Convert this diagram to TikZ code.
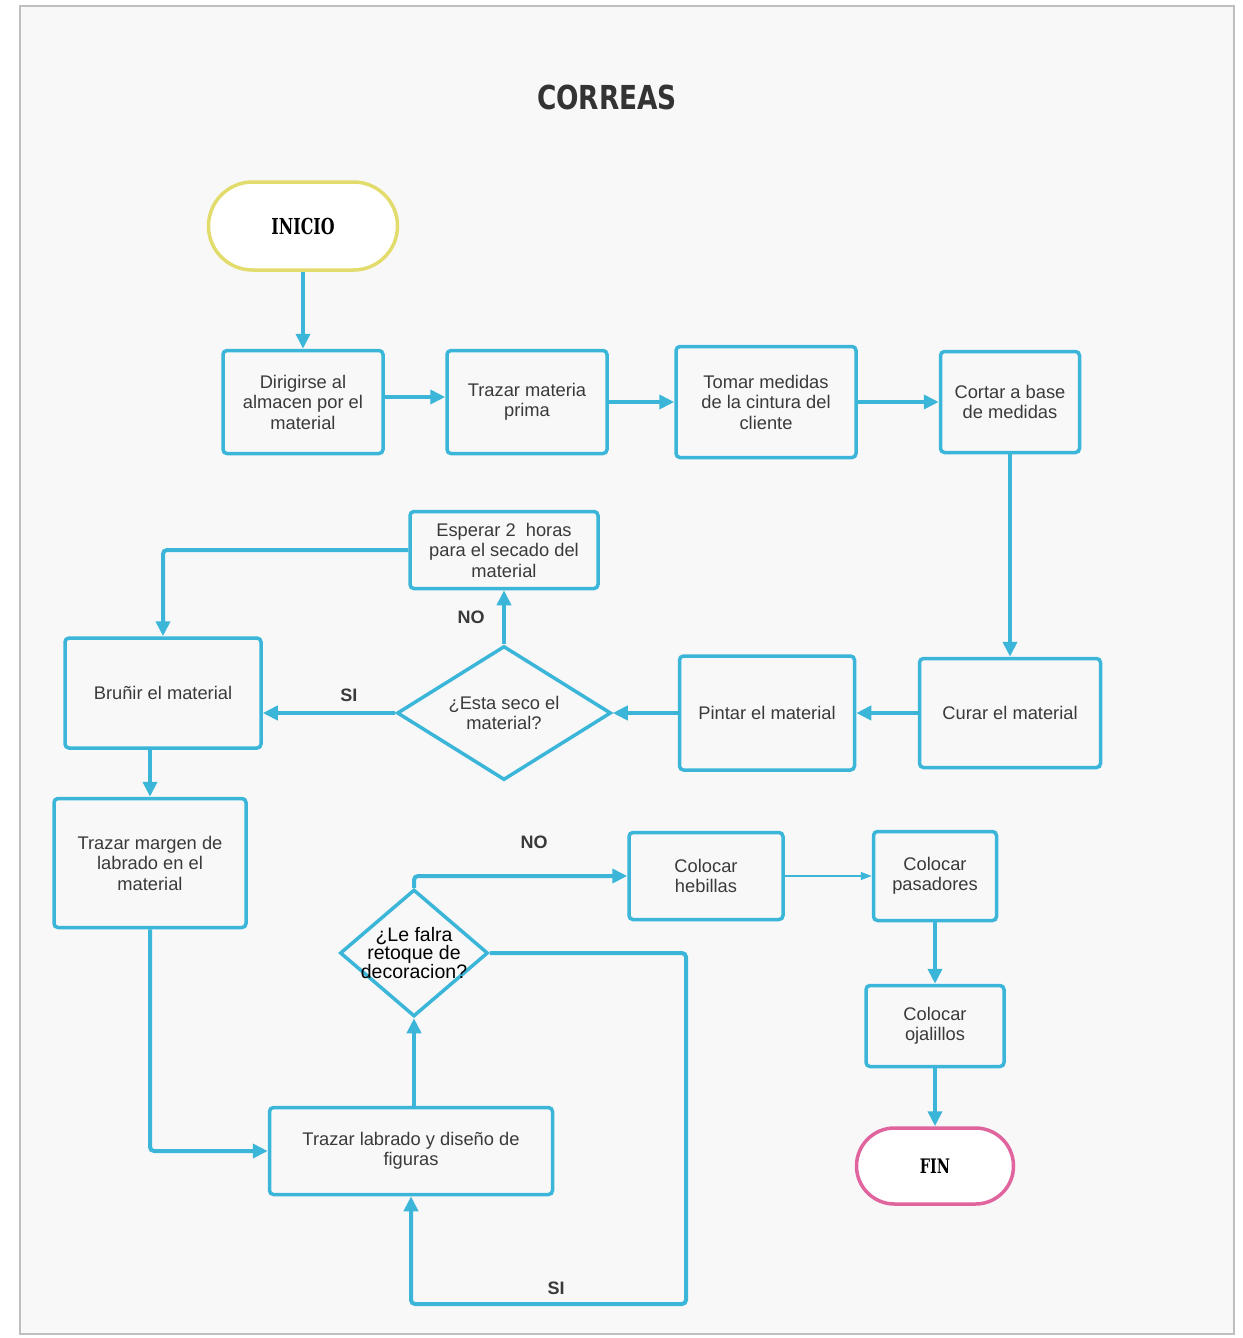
\documentclass[tikz,border=0pt]{standalone}
\usepackage{fontspec}
\setmainfont{Liberation Sans}
\newfontfamily\titulofont{DejaVu Sans}
\newfontfamily\losafont{DejaVu Serif}
\usetikzlibrary{shapes.geometric,arrows.meta,positioning}

\definecolor{azul}{HTML}{3BB6D9}
\definecolor{amarillo}{HTML}{E2DC6C}
\definecolor{rosa}{HTML}{E0649D}
\definecolor{fondo}{HTML}{F8F8F8}
\definecolor{texto}{HTML}{3A3A3A}

\tikzset{
  proceso/.style={draw=azul, line width=3.5pt, rounded corners=4pt, fill=fondo,
    text=texto, align=center, inner sep=2pt,
    font=\fontsize{18.3}{20.5}\selectfont},
  decision/.style={draw=azul, line width=3.5pt, diamond, inner sep=0pt, fill=fondo},
  terminal/.style={line width=3.5pt, fill=white, font=\losafont\bfseries},
  flecha/.style={draw=azul, line width=4pt, -{Triangle[length=15pt,width=14pt]}},
  flechafina/.style={draw=azul, line width=1.2pt, -{Triangle[length=11pt,width=8pt]}},
  etiqueta/.style={text=texto, font=\fontsize{18}{20}\selectfont\bfseries}
}

\begin{document}
\begin{tikzpicture}[x=1pt,y=-1pt]
% fondo de la hoja
\fill[white] (0,0) rectangle (1242,1338);
\useasboundingbox (0,0) rectangle (1242,1338);
\draw[black!25, line width=1.5pt, fill=fondo] (20,6) rectangle (1234,1334);

% titulo
\node[text=black!80] (titulo) at (607,97)
  {\scalebox{0.8}[1]{\fontsize{33}{36}\selectfont\titulofont\bfseries CORREAS}};

% inicio y fin
\node[terminal, draw=amarillo, rounded corners=44pt, minimum width=189pt, minimum height=88pt] (inicio) at (303,226)
  {\scalebox{0.72}[1]{\fontsize{22}{24}\selectfont INICIO}};
\node[terminal, draw=rosa, rounded corners=38pt, minimum width=157pt, minimum height=76pt] (fin) at (935,1166)
  {\scalebox{0.72}[1]{\fontsize{20}{22}\selectfont FIN}};

% primera fila
\node[proceso, minimum width=160pt, minimum height=103pt] (dirigir) at (303,402) {Dirigirse al\\almacen por el\\material};
\node[proceso, minimum width=160pt, minimum height=103pt] (trazar) at (527,402) {Trazar materia\\prima};
\node[proceso, minimum width=180pt, minimum height=111pt] (medidas) at (766,402) {Tomar medidas\\de la cintura del\\cliente};
\node[proceso, minimum width=139pt, minimum height=101pt] (cortar) at (1010,402) {Cortar a base\\de medidas};

% segunda fila
\node[proceso, minimum width=181pt, minimum height=109pt] (curar) at (1010,713) {Curar el material};
\node[proceso, minimum width=175pt, minimum height=114pt] (pintar) at (767,713) {Pintar el material};
\node[decision, minimum width=214pt, minimum height=134pt] (seco) at (504,713) {};
\node[text=texto, align=center, font=\fontsize{18.3}{20.5}\selectfont] (secotxt) at (seco) {¿Esta seco el\\material?};
\node[proceso, minimum width=188pt, minimum height=77pt] (esperar) at (504,550) {Esperar 2\ \ horas\\para el secado del\\material};
\node[proceso, minimum width=196pt, minimum height=110pt] (brunir) at (163,693) {Bruñir el material};

% parte inferior
\node[proceso, minimum width=192pt, minimum height=129pt] (margen) at (150,863) {Trazar margen de\\labrado en el\\material};
\node[proceso, minimum width=283pt, minimum height=87pt] (labrado) at (411,1151) {Trazar labrado y diseño de\\figuras};
\node[decision, minimum width=148pt, minimum height=127pt] (decora) at (414,953) {};
\node[text=black, align=center, font=\fontsize{19.5}{18.5}\selectfont] (decoratxt) at (decora) {¿Le falra\\retoque de\\decoracion?};
\node[proceso, minimum width=154pt, minimum height=87pt] (hebillas) at (706,876) {Colocar\\hebillas};
\node[proceso, minimum width=123pt, minimum height=89pt] (pasadores) at (935,876) {Colocar\\pasadores};
\node[proceso, minimum width=138pt, minimum height=81pt] (ojalillos) at (935,1026) {Colocar\\ojalillos};

% puntos de paso
\coordinate (vuelta) at (686,1304);

% conexiones
\draw[flecha] (inicio) -- (dirigir);
\draw[flecha] (dirigir.east |- 0,397) -- (trazar.west |- 0,397);
\draw[flecha] (trazar) -- (medidas);
\draw[flecha] (medidas) -- (cortar);
\draw[flecha] (cortar) -- (curar);
\draw[flecha] (curar) -- (pintar);
\draw[flecha] (pintar) -- (seco);
\draw[flecha] (seco) -- node[etiqueta, pos=0.5, left=14pt] (no1) {NO} (esperar);
\draw[flecha] (seco.west) -- node[etiqueta, pos=0.35, above=6pt] (si1) {SI} (seco.west -| brunir.east);
\draw[flecha, rounded corners=4pt] (esperar.west) -| (brunir.north);
\draw[flecha] (margen.north |- brunir.south) -- (margen.north);
\draw[flecha, rounded corners=4pt] (margen.south) |- (labrado.west);
\draw[flecha] (labrado.north -| decora.south) -- (decora.south);
\draw[flecha, rounded corners=4pt] (decora.north) |- (hebillas.west);
\draw[flecha, rounded corners=4pt] (decora.east) -| (vuelta) -| (labrado.south);
\draw[flechafina] (hebillas) -- (pasadores);
\draw[flecha] (pasadores) -- (ojalillos);
\draw[flecha] (ojalillos) -- (fin);

% etiquetas sueltas
\node[etiqueta] (no2) at (534,842) {NO};
\node[etiqueta] (si2) at (556,1288) {SI};
\end{tikzpicture}
\end{document}
